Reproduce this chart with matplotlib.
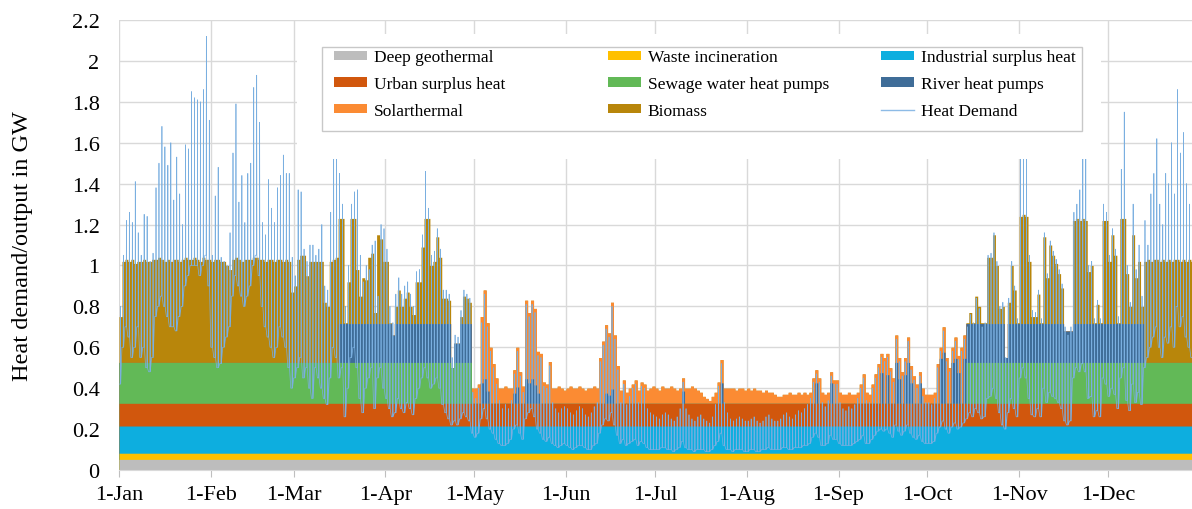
import numpy as np
import matplotlib.pyplot as plt
from matplotlib.patches import Patch, Rectangle
from matplotlib.lines import Line2D

plt.rcParams['font.family'] = ['Liberation Serif', 'DejaVu Serif']

# month ticks (day of year) and labels
month_days = [0, 31, 59, 90, 120, 151, 181, 212, 243, 273, 304, 334]
month_labels = ['1-Jan', '1-Feb', '1-Mar', '1-Apr', '1-May', '1-Jun',
                '1-Jul', '1-Aug', '1-Sep', '1-Oct', '1-Nov', '1-Dec']

# constant must-run outputs in GW
geothermal = 0.052
waste = 0.030
industrial = 0.133
urban = 0.111
sewage_cap = 0.20
river_cap = 0.19

# day ranges in which each flexible source runs
sewage_periods = [(0, 119), (286, 365)]
river_periods = [(74, 119), (286, 346)]
solar_periods = [(119, 286)]

# river heat pump share under the summer peaks
river_peak_days = [122, 123, 124, 133, 134, 137, 138, 139, 140, 141, 164, 165, 166, 190, 203,
                   235, 240, 257, 259, 262, 263, 265, 266, 267, 270, 277, 278, 281, 282, 283, 285]
river_peak_vals = [0.10, 0.12, 0.06, 0.05, 0.08, 0.12, 0.10, 0.12, 0.09, 0.05, 0.05, 0.04, 0.07, 0.06, 0.10,
                   0.10, 0.10, 0.15, 0.14, 0.20, 0.12, 0.14, 0.20, 0.10, 0.10, 0.22, 0.25, 0.20, 0.22, 0.15, 0.22]

# daily top of the stacked output (GW)
top_jan = [0.75, 1.02, 1.03, 1.02, 1.03, 1.01, 1.02, 1.02, 1.03, 1.02, 1.02, 1.03, 1.03, 1.04, 1.03, 1.02,
           1.03, 1.02, 1.03, 1.03, 1.02, 1.03, 1.04, 1.03, 1.03, 1.04, 1.03, 1.02, 1.04, 1.03, 1.03]
top_feb = [1.02, 1.03, 1.03, 1.02, 1.02, 1.00, 0.98, 1.03, 1.04, 1.03, 1.02, 1.03, 1.03, 1.03,
           1.04, 1.04, 1.03, 1.03, 1.02, 1.03, 1.03, 1.02, 1.03, 1.03, 1.02, 1.03, 1.02, 0.87]
top_mar = [0.90, 1.03, 1.05, 1.05, 0.95, 1.02, 1.02, 1.02, 1.02, 1.02, 0.82, 0.80, 1.02, 1.03, 1.04, 1.23,
           1.23, 0.72, 0.92, 1.23, 1.23, 0.98, 0.85, 0.94, 0.93, 1.04, 1.06, 0.77, 1.15, 1.13, 1.02]
top_apr = [1.02, 0.72, 0.66, 0.80, 0.88, 0.80, 0.84, 0.87, 0.80, 0.76, 0.92, 0.92, 1.09, 1.23, 1.23,
           1.00, 1.02, 1.14, 1.04, 0.84, 0.84, 0.83, 0.50, 0.62, 0.62, 0.75, 0.85, 0.84, 0.82, 0.40]
top_may = [0.40, 0.42, 0.75, 0.88, 0.72, 0.60, 0.52, 0.45, 0.40, 0.40, 0.41, 0.40, 0.40, 0.49, 0.60, 0.48,
           0.41, 0.83, 0.77, 0.83, 0.79, 0.58, 0.57, 0.43, 0.42, 0.53, 0.40, 0.40, 0.41, 0.40, 0.39]
top_jun = [0.40, 0.41, 0.40, 0.40, 0.41, 0.40, 0.39, 0.40, 0.40, 0.41, 0.40, 0.55, 0.63, 0.71, 0.67,
           0.82, 0.66, 0.51, 0.39, 0.44, 0.38, 0.40, 0.42, 0.44, 0.39, 0.43, 0.42, 0.39, 0.40, 0.41]
top_jul = [0.40, 0.39, 0.41, 0.40, 0.40, 0.41, 0.40, 0.39, 0.40, 0.45, 0.40, 0.40, 0.41, 0.40, 0.39, 0.38,
           0.36, 0.35, 0.34, 0.36, 0.38, 0.43, 0.54, 0.40, 0.40, 0.40, 0.40, 0.39, 0.40, 0.40, 0.39]
top_aug = [0.40, 0.39, 0.40, 0.39, 0.39, 0.38, 0.39, 0.38, 0.38, 0.37, 0.36, 0.36, 0.37, 0.37, 0.38, 0.37,
           0.37, 0.38, 0.37, 0.38, 0.37, 0.38, 0.45, 0.49, 0.45, 0.38, 0.37, 0.38, 0.48, 0.44, 0.44]
top_sep = [0.38, 0.37, 0.37, 0.38, 0.37, 0.37, 0.38, 0.42, 0.47, 0.38, 0.37, 0.42, 0.47, 0.52, 0.57,
           0.55, 0.57, 0.50, 0.45, 0.66, 0.55, 0.48, 0.55, 0.65, 0.51, 0.46, 0.42, 0.48, 0.40, 0.37]
top_oct = [0.37, 0.37, 0.38, 0.52, 0.60, 0.70, 0.55, 0.50, 0.60, 0.65, 0.56, 0.60, 0.66, 0.72, 0.77, 0.72,
           0.85, 0.80, 0.72, 0.72, 1.04, 1.04, 1.15, 1.00, 0.79, 0.80, 0.55, 0.82, 1.00, 0.88, 0.72]
top_nov = [1.24, 1.25, 1.24, 1.02, 0.75, 0.75, 0.86, 0.72, 1.14, 0.94, 1.10, 1.05, 1.01, 0.96, 0.89,
           0.68, 0.68, 0.68, 1.22, 1.23, 1.22, 1.23, 1.22, 0.97, 1.00, 0.72, 0.81, 0.72, 1.22, 1.22]
top_dec = [1.02, 1.15, 1.05, 0.72, 1.23, 1.23, 0.96, 0.80, 1.15, 0.94, 1.02, 0.80, 1.02, 1.03, 1.02, 1.03,
           1.03, 1.02, 1.03, 1.02, 1.03, 1.02, 1.03, 1.03, 1.02, 1.03, 1.02, 1.03, 1.02, 1.03, 1.02]

# daily maximum of the hourly heat demand (GW)
peak_jan = [0.80, 1.05, 1.22, 1.26, 1.21, 1.41, 1.16, 1.05, 1.25, 1.24, 1.02, 1.06, 1.38, 1.50, 1.68, 1.58,
            1.49, 1.60, 1.32, 1.53, 1.35, 1.20, 1.59, 1.57, 1.85, 1.82, 1.81, 1.80, 1.86, 2.12, 1.71]
peak_feb = [1.05, 1.34, 1.48, 1.04, 1.02, 1.00, 1.16, 1.55, 1.79, 1.31, 1.44, 1.21, 1.45, 1.50,
            1.87, 1.93, 1.70, 1.21, 1.15, 1.42, 1.28, 1.21, 1.38, 1.44, 1.54, 1.45, 1.45, 1.04]
peak_mar = [0.95, 1.37, 1.36, 1.08, 1.02, 1.10, 1.10, 1.05, 1.08, 1.20, 0.90, 0.88, 1.26, 1.52, 1.52, 1.45,
            1.30, 0.80, 1.00, 1.30, 1.36, 1.37, 1.05, 0.92, 1.00, 0.98, 1.10, 1.12, 0.85, 1.20, 1.18]
peak_apr = [1.08, 0.80, 0.72, 0.86, 0.94, 0.86, 0.90, 0.92, 0.86, 0.80, 0.97, 0.98, 1.15, 1.46, 1.28,
            1.05, 1.07, 1.18, 1.08, 0.88, 0.88, 0.86, 0.55, 0.66, 0.65, 0.78, 0.88, 0.86, 0.84, 0.38]
peak_may = [0.35, 0.40, 0.72, 0.86, 0.70, 0.58, 0.50, 0.42, 0.34, 0.30, 0.32, 0.30, 0.34, 0.47, 0.58, 0.46,
            0.38, 0.81, 0.75, 0.81, 0.77, 0.56, 0.55, 0.41, 0.40, 0.51, 0.33, 0.30, 0.28, 0.30, 0.31]
peak_jun = [0.30, 0.28, 0.27, 0.29, 0.31, 0.30, 0.27, 0.26, 0.28, 0.31, 0.33, 0.53, 0.61, 0.69, 0.65,
            0.80, 0.64, 0.49, 0.33, 0.42, 0.32, 0.36, 0.40, 0.42, 0.33, 0.41, 0.40, 0.30, 0.28, 0.27]
peak_jul = [0.26, 0.25, 0.27, 0.28, 0.27, 0.25, 0.24, 0.26, 0.30, 0.43, 0.30, 0.27, 0.25, 0.24, 0.26, 0.27,
            0.25, 0.24, 0.23, 0.26, 0.32, 0.41, 0.52, 0.33, 0.28, 0.25, 0.24, 0.25, 0.26, 0.25, 0.24]
peak_aug = [0.24, 0.25, 0.26, 0.24, 0.23, 0.24, 0.26, 0.27, 0.25, 0.24, 0.24, 0.25, 0.27, 0.28, 0.26, 0.25,
            0.27, 0.29, 0.28, 0.30, 0.32, 0.35, 0.43, 0.47, 0.43, 0.33, 0.31, 0.34, 0.46, 0.42, 0.42]
peak_sep = [0.33, 0.30, 0.29, 0.31, 0.30, 0.32, 0.35, 0.40, 0.45, 0.34, 0.33, 0.40, 0.45, 0.50, 0.55,
            0.53, 0.55, 0.48, 0.43, 0.64, 0.53, 0.46, 0.53, 0.63, 0.49, 0.44, 0.40, 0.46, 0.36, 0.33]
peak_oct = [0.33, 0.32, 0.35, 0.50, 0.58, 0.68, 0.53, 0.48, 0.58, 0.63, 0.54, 0.58, 0.64, 0.70, 0.76, 0.72,
            0.84, 0.79, 0.70, 0.72, 1.05, 1.06, 1.16, 1.02, 0.80, 0.82, 0.55, 0.84, 1.02, 0.90, 0.74]
peak_nov = [1.52, 1.55, 1.52, 1.05, 0.78, 0.77, 0.88, 0.74, 1.16, 0.96, 1.12, 1.07, 1.03, 0.98, 0.91,
            0.70, 0.66, 0.70, 1.26, 1.30, 1.37, 1.55, 1.55, 1.00, 1.02, 0.74, 0.83, 0.74, 1.30, 1.26]
peak_dec = [1.05, 1.18, 1.08, 0.75, 1.47, 1.75, 1.00, 0.82, 1.30, 0.98, 1.10, 0.85, 1.22, 1.10, 1.35, 1.45,
            1.62, 1.30, 1.20, 1.45, 1.40, 1.60, 1.35, 1.86, 1.55, 1.65, 1.40, 1.30, 1.20, 1.25, 1.15]

# daily minimum of the hourly heat demand (GW)
low_jan = [0.42, 0.60, 0.70, 0.65, 0.55, 0.60, 0.70, 0.55, 0.60, 0.50, 0.48, 0.55, 0.75, 0.80, 0.85, 0.80,
           0.75, 0.70, 0.70, 0.68, 0.75, 0.80, 0.90, 0.95, 1.00, 1.00, 1.00, 0.95, 1.00, 1.05, 0.90]
low_feb = [0.60, 0.55, 0.50, 0.52, 0.60, 0.65, 0.70, 0.85, 0.95, 0.90, 0.85, 0.80, 0.85, 0.90,
           1.00, 1.05, 0.95, 0.80, 0.70, 0.65, 0.60, 0.55, 0.60, 0.70, 0.65, 0.60, 0.50, 0.40]
low_mar = [0.45, 0.50, 0.55, 0.45, 0.50, 0.40, 0.35, 0.50, 0.45, 0.40, 0.35, 0.32, 0.45, 0.60, 0.55, 0.45,
           0.50, 0.26, 0.40, 0.55, 0.60, 0.50, 0.35, 0.28, 0.40, 0.45, 0.50, 0.30, 0.45, 0.50, 0.40]
low_apr = [0.35, 0.30, 0.26, 0.28, 0.35, 0.30, 0.28, 0.33, 0.30, 0.27, 0.35, 0.40, 0.45, 0.50, 0.45,
           0.40, 0.42, 0.45, 0.40, 0.32, 0.28, 0.25, 0.22, 0.24, 0.22, 0.25, 0.28, 0.26, 0.24, 0.18]
low_may = [0.16, 0.18, 0.25, 0.30, 0.25, 0.20, 0.18, 0.15, 0.13, 0.12, 0.12, 0.13, 0.15, 0.20, 0.22, 0.18,
           0.15, 0.25, 0.28, 0.30, 0.26, 0.20, 0.18, 0.15, 0.14, 0.16, 0.13, 0.12, 0.11, 0.12, 0.13]
low_jun = [0.12, 0.11, 0.10, 0.11, 0.12, 0.12, 0.11, 0.10, 0.10, 0.12, 0.13, 0.18, 0.22, 0.25, 0.24,
           0.28, 0.22, 0.17, 0.13, 0.15, 0.12, 0.13, 0.14, 0.15, 0.12, 0.14, 0.13, 0.11, 0.10, 0.10]
low_jul = [0.10, 0.10, 0.11, 0.11, 0.10, 0.10, 0.09, 0.10, 0.11, 0.14, 0.11, 0.10, 0.10, 0.09, 0.10, 0.10,
           0.10, 0.09, 0.09, 0.10, 0.12, 0.14, 0.18, 0.12, 0.10, 0.10, 0.09, 0.10, 0.10, 0.10, 0.09]
low_aug = [0.09, 0.10, 0.10, 0.09, 0.09, 0.10, 0.10, 0.11, 0.10, 0.10, 0.10, 0.10, 0.11, 0.11, 0.10, 0.10,
           0.11, 0.11, 0.11, 0.12, 0.12, 0.13, 0.16, 0.18, 0.16, 0.12, 0.12, 0.13, 0.17, 0.15, 0.15]
low_sep = [0.13, 0.12, 0.12, 0.12, 0.12, 0.13, 0.14, 0.15, 0.17, 0.13, 0.13, 0.15, 0.17, 0.19, 0.20,
           0.19, 0.20, 0.18, 0.16, 0.22, 0.19, 0.17, 0.19, 0.22, 0.18, 0.16, 0.15, 0.17, 0.14, 0.13]
low_oct = [0.13, 0.13, 0.14, 0.18, 0.21, 0.24, 0.20, 0.18, 0.21, 0.23, 0.20, 0.21, 0.23, 0.25, 0.28, 0.26,
           0.30, 0.28, 0.25, 0.26, 0.35, 0.36, 0.40, 0.35, 0.28, 0.22, 0.20, 0.28, 0.35, 0.30, 0.26]
low_nov = [0.45, 0.50, 0.45, 0.35, 0.27, 0.26, 0.30, 0.26, 0.40, 0.33, 0.38, 0.36, 0.35, 0.33, 0.30,
           0.24, 0.22, 0.24, 0.45, 0.50, 0.48, 0.52, 0.48, 0.35, 0.36, 0.26, 0.29, 0.26, 0.45, 0.42]
low_dec = [0.36, 0.40, 0.37, 0.30, 0.45, 0.50, 0.34, 0.29, 0.42, 0.33, 0.38, 0.32, 0.50, 0.55, 0.60, 0.65,
           0.70, 0.60, 0.55, 0.65, 0.62, 0.70, 0.60, 0.80, 0.70, 0.75, 0.65, 0.60, 0.55, 0.58, 0.52]

labels = ['Deep geothermal', 'Waste incineration', 'Industrial surplus heat',
          'Urban surplus heat', 'Sewage water heat pumps', 'River heat pumps',
          'Solarthermal', 'Biomass', 'Heat Demand']
colors = ['#BDBDBD', '#FFC000', '#0DAEDF', '#D1570D', '#62B957', '#3F6D98',
          '#FB8B33', '#B8860B', '#8DBBE6']

top = np.array(top_jan + top_feb + top_mar + top_apr + top_may + top_jun +
               top_jul + top_aug + top_sep + top_oct + top_nov + top_dec)
peak = np.array(peak_jan + peak_feb + peak_mar + peak_apr + peak_may + peak_jun +
                peak_jul + peak_aug + peak_sep + peak_oct + peak_nov + peak_dec)
low = np.array(low_jan + low_feb + low_mar + low_apr + low_may + low_jun +
               low_jul + low_aug + low_sep + low_oct + low_nov + low_dec)
n = len(top)
day = np.arange(n)


def period_mask(periods):
    m = np.zeros(n, dtype=bool)
    for a, b in periods:
        m[a:b] = True
    return m


base = geothermal + waste + industrial + urban
sewage = np.where(period_mask(sewage_periods), np.clip(top - base, 0, sewage_cap), 0)
level = base + sewage
river = np.where(period_mask(river_periods), np.clip(top - level, 0, river_cap), 0)
river[river_peak_days] = river_peak_vals
level = level + river
solar = np.where(period_mask(solar_periods), top - level, 0)
biomass = top - level - solar

layers = [np.full(n, geothermal), np.full(n, waste), np.full(n, industrial),
          np.full(n, urban), sewage, river, solar, biomass]
cum = np.cumsum(layers, axis=0)

fig = plt.figure(figsize=(11.92, 5.10), dpi=100)
ax = fig.add_axes([119 / 1192, 1 - 471 / 510, 1073 / 1192, 450 / 510])

xs = np.arange(n + 1)
# paint from the top layer down so no seams show between the bands
for i in range(len(layers) - 1, -1, -1):
    ys = np.append(cum[i], cum[i][-1])
    ax.fill_between(xs, 0, ys, step='post', color=colors[i], lw=0, zorder=2)

# demand: sits at the daily low, with a short spike up to the daily peak
line_x = np.column_stack([day, day + 0.42, day + 0.5, day + 0.58]).ravel()
line_y = np.column_stack([low, low, peak, low]).ravel()
ax.plot(line_x, line_y, color='#7AAFE0', lw=0.5, zorder=2.5)

ax.set_xlim(0, 1073 / 2.961)
ax.set_ylim(0, 2.2)
ax.set_xticks(month_days)
ax.set_xticklabels(month_labels)
yt = np.round(np.arange(0, 2.21, 0.2), 1)
ax.set_yticks(yt)
ax.set_yticklabels([f'{v:g}' for v in yt])
ax.tick_params(axis='x', length=5, color='#BFBFBF', pad=6, labelsize=16)
ax.tick_params(axis='y', length=0, pad=14, labelsize=16)
ax.grid(True, color='#D9D9D9', lw=1)
ax.set_axisbelow(True)
for s in ['top', 'right', 'left']:
    ax.spines[s].set_visible(False)
ax.spines['bottom'].set_color('#D9D9D9')

ax.set_ylabel('Heat demand/output in GW', fontsize=17.5, va='center')
ax.yaxis.set_label_coords(-96 / 1073, 0.5)

# white area behind the legend (covers the demand peaks too)
ax.add_patch(Rectangle((60.1, 1.52), 271.5, 0.61, facecolor='white',
                       edgecolor='none', zorder=3))
fig.patches.append(Rectangle((322 / 1192, 1 - 132 / 510), 760 / 1192, 84 / 510,
                             transform=fig.transFigure, facecolor='white',
                             edgecolor='#C8C8C8', lw=1, zorder=4))

handles = [Patch(facecolor=c, edgecolor='none') for c in colors[:8]]
handles.append(Line2D([], [], color=colors[8], lw=1))
col_x = [331, 605, 878]
for c in range(3):
    idx = [c, c + 3, c + 6]
    leg = fig.legend([handles[i] for i in idx], [labels[i] for i in idx],
                     loc='upper left', bbox_to_anchor=(col_x[c] / 1192, 1 - 47 / 510),
                     frameon=False, fontsize=12.5, handlelength=1.85, handleheight=0.45,
                     handletextpad=0.4, labelspacing=0.62, borderpad=0.2,
                     borderaxespad=0)
    leg.set_zorder(5)

fig.savefig('out.png', dpi=100)
